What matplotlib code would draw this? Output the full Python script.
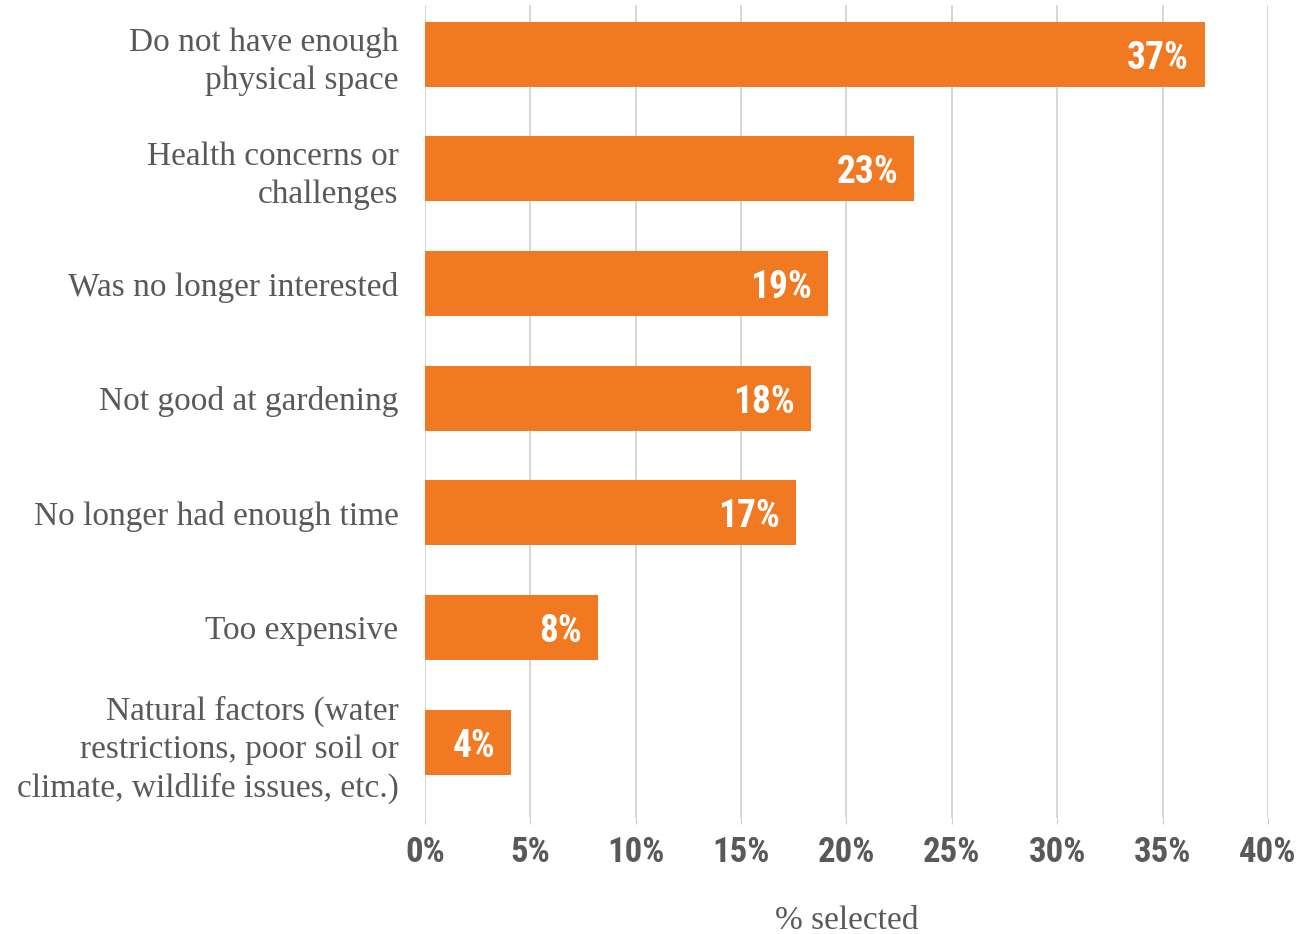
import matplotlib
matplotlib.use("Agg")
import matplotlib.pyplot as plt

categories = [
    "Do not have enough\nphysical space",
    "Health concerns or\nchallenges",
    "Was no longer interested",
    "Not good at gardening",
    "No longer had enough time",
    "Too expensive",
    "Natural factors (water\nrestrictions, poor soil or\nclimate, wildlife issues, etc.)",
]
values = [37.0, 23.2, 19.1, 18.3, 17.6, 8.2, 4.1]
value_labels = ["37%", "23%", "19%", "18%", "17%", "8%", "4%"]
xticks = [0, 5, 10, 15, 20, 25, 30, 35, 40]
xtick_labels = ["0%", "5%", "10%", "15%", "20%", "25%", "30%", "35%", "40%"]

orange = "#F07922"
gray = "#595959"
num_font = dict(family=["Roboto Condensed", "Liberation Sans Narrow",
                        "Open Sans Condensed", "DejaVu Sans Condensed",
                        "Roboto", "DejaVu Sans"],
                weight="bold", stretch="condensed")
serif = ["Liberation Serif", "DejaVu Serif"]

fig = plt.figure(figsize=(13.1, 9.34), dpi=100)
ax = fig.add_axes([425/1310, 1-818/934, (1268-425)/1310, (818-5)/934])

ypos = list(range(len(categories)))
ax.barh(ypos, values, height=0.567, color=orange, zorder=3)
ax.set_ylim(6.66, -0.43)
ax.set_xlim(0, 40)

for y, v, lab in zip(ypos, values, value_labels):
    ax.text(v - 0.75, y, lab, ha="right", va="center_baseline", color="white",
            fontsize=27, zorder=4, **num_font)

ax.set_xticks(xticks)
ax.set_xticklabels(xtick_labels, color=gray, fontsize=25, **num_font)
ax.set_yticks(ypos)
ax.set_yticklabels(categories, family=serif, fontsize=24,
                   color=gray, linespacing=1.32, ha="right")
ax.tick_params(axis="y", length=0, pad=19)
ax.tick_params(axis="x", length=4, color="#cccccc", pad=9)
ax.grid(axis="x", color="#d0d0d0", linewidth=1.2, zorder=0)
for s in ax.spines.values():
    s.set_visible(False)

ax.set_xlabel("% selected", family=serif, fontsize=24,
              color=gray, labelpad=26)

fig.savefig("out.png", dpi=100)
